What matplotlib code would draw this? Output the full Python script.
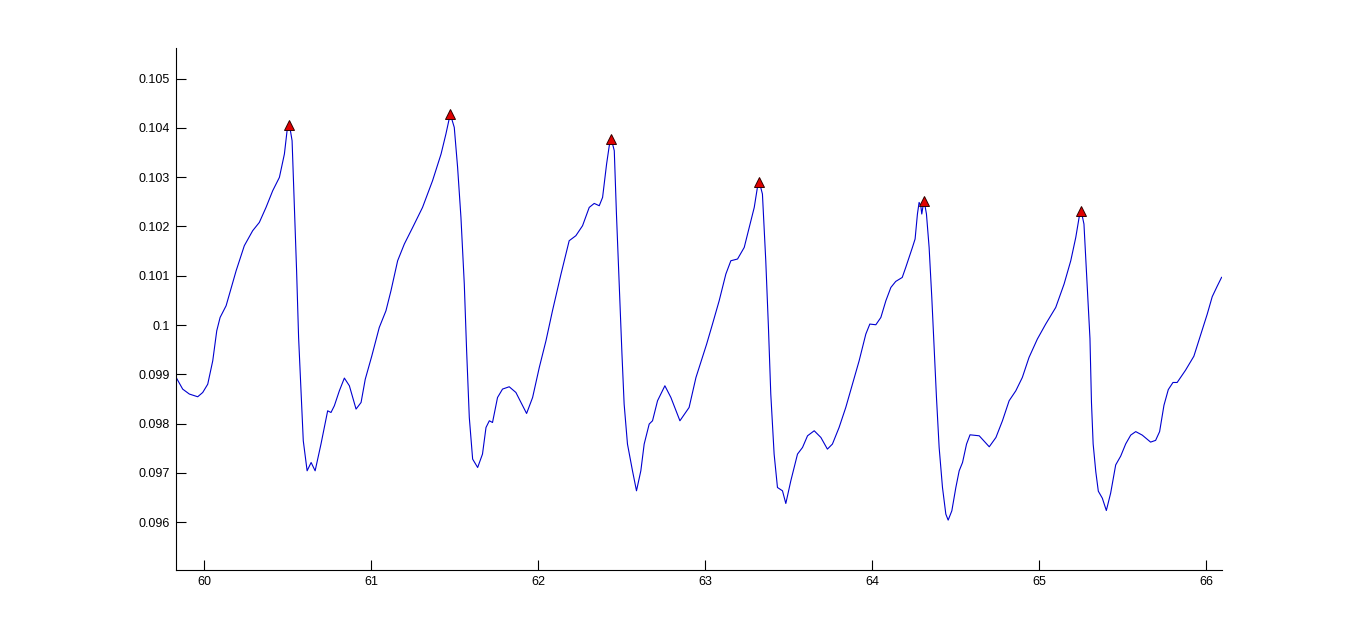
import matplotlib.pyplot as plt

# Data
t = [59.834, 59.873, 59.913, 59.963, 59.993, 60.023, 60.053, 60.077, 60.097, 60.133,
     60.193, 60.242, 60.292, 60.332, 60.372, 60.412, 60.452, 60.482, 60.498, 60.512,
     60.528, 60.542, 60.555, 60.567, 60.582, 60.595, 60.618, 60.642, 60.666, 60.701,
     60.741, 60.761, 60.781, 60.811, 60.841, 60.871, 60.911, 60.941, 60.966, 61.005,
     61.050, 61.090, 61.120, 61.160, 61.200, 61.250, 61.309, 61.369, 61.420, 61.449,
     61.475, 61.499, 61.519, 61.539, 61.559, 61.573, 61.589, 61.609, 61.639, 61.668,
     61.689, 61.709, 61.728, 61.758, 61.788, 61.828, 61.868, 61.932, 61.968, 62.008,
     62.048, 62.087, 62.138, 62.187, 62.227, 62.267, 62.307, 62.337, 62.367, 62.387,
     62.411, 62.427, 62.439, 62.457, 62.470, 62.487, 62.503, 62.516, 62.536, 62.566,
     62.590, 62.616, 62.636, 62.666, 62.686, 62.716, 62.760, 62.796, 62.850, 62.905,
     62.946, 62.980, 63.010, 63.045, 63.085, 63.125, 63.155, 63.195, 63.235, 63.265,
     63.295, 63.314, 63.326, 63.344, 63.364, 63.380, 63.394, 63.414, 63.434, 63.464,
     63.484, 63.514, 63.554, 63.584, 63.614, 63.654, 63.694, 63.733, 63.763, 63.803,
     63.843, 63.883, 63.923, 63.963, 63.987, 64.023, 64.053, 64.083, 64.113, 64.142,
     64.181, 64.202, 64.242, 64.258, 64.272, 64.282, 64.292, 64.298, 64.306, 64.312,
     64.326, 64.342, 64.358, 64.372, 64.386, 64.402, 64.422, 64.442, 64.456, 64.478,
     64.502, 64.522, 64.542, 64.566, 64.587, 64.642, 64.702, 64.742, 64.781, 64.821,
     64.861, 64.900, 64.940, 64.990, 65.040, 65.100, 65.150, 65.190, 65.220, 65.240,
     65.253, 65.269, 65.285, 65.305, 65.314, 65.324, 65.340, 65.355, 65.379, 65.403,
     65.429, 65.459, 65.489, 65.519, 65.549, 65.579, 65.618, 65.668, 65.698, 65.722,
     65.748, 65.774, 65.802, 65.827, 65.877, 65.927, 65.967, 66.007, 66.037, 66.067,
     66.093]
signal = [0.098936, 0.098700, 0.098600, 0.098545, 0.098632, 0.098800, 0.099275, 0.099884, 0.100154, 0.100392,
          0.101102, 0.101610, 0.101914, 0.102083, 0.102387, 0.102726, 0.102996, 0.103471, 0.103944, 0.104066,
          0.103741, 0.102387, 0.101102, 0.099748, 0.098600, 0.097652, 0.097043, 0.097211, 0.097043, 0.097585,
          0.098260, 0.098226, 0.098362, 0.098666, 0.098924, 0.098768, 0.098295, 0.098429, 0.098900, 0.099370,
          0.099951, 0.100290, 0.100696, 0.101305, 0.101644, 0.101981, 0.102387, 0.102929, 0.103471, 0.103877,
          0.104283, 0.104011, 0.103199, 0.102184, 0.100832, 0.099478, 0.098125, 0.097280, 0.097110, 0.097382,
          0.097922, 0.098058, 0.098023, 0.098530, 0.098701, 0.098748, 0.098632, 0.098206, 0.098530, 0.099139,
          0.099681, 0.100290, 0.101035, 0.101711, 0.101813, 0.102015, 0.102387, 0.102468, 0.102421, 0.102590,
          0.103268, 0.103639, 0.103775, 0.103538, 0.102253, 0.100763, 0.099411, 0.098397, 0.097585, 0.097043,
          0.096637, 0.097043, 0.097585, 0.097991, 0.098058, 0.098464, 0.098768, 0.098530, 0.098058, 0.098328,
          0.098936, 0.099300, 0.099614, 0.100020, 0.100493, 0.101035, 0.101305, 0.101340, 0.101575, 0.101981,
          0.102387, 0.102793, 0.102894, 0.102659, 0.101305, 0.099951, 0.098600, 0.097382, 0.096704, 0.096637,
          0.096380, 0.096840, 0.097382, 0.097516, 0.097753, 0.097855, 0.097719, 0.097483, 0.097585, 0.097922,
          0.098328, 0.098800, 0.099275, 0.099817, 0.100020, 0.100006, 0.100154, 0.100493, 0.100763, 0.100885,
          0.100966, 0.101169, 0.101575, 0.101746, 0.102253, 0.102488, 0.102421, 0.102253, 0.102421, 0.102523,
          0.102253, 0.101575, 0.100560, 0.099545, 0.098530, 0.097516, 0.096704, 0.096164, 0.096042, 0.096231,
          0.096704, 0.097043, 0.097211, 0.097585, 0.097773, 0.097753, 0.097530, 0.097719, 0.098058, 0.098464,
          0.098666, 0.098936, 0.099342, 0.099716, 0.100020, 0.100357, 0.100832, 0.101305, 0.101778, 0.102184,
          0.102306, 0.102050, 0.101000, 0.099724, 0.098430, 0.097589, 0.097020, 0.096629, 0.096487, 0.096237,
          0.096592, 0.097162, 0.097341, 0.097589, 0.097767, 0.097838, 0.097767, 0.097625, 0.097660, 0.097838,
          0.098372, 0.098691, 0.098835, 0.098835, 0.099083, 0.099367, 0.099795, 0.100221, 0.100576, 0.100790,
          0.100968]

peak_t = [60.512, 61.475, 62.439, 63.326, 64.312, 65.253]
peak_val = [0.104066, 0.104283, 0.103775, 0.102894, 0.102523, 0.102306]

xtick_vals = [60, 61, 62, 63, 64, 65, 66]
xtick_labels = ['60', '61', '62', '63', '64', '65', '66']
ytick_vals = [0.096, 0.097, 0.098, 0.099, 0.100, 0.101, 0.102, 0.103, 0.104, 0.105]
ytick_labels = ['0.096', '0.097', '0.098', '0.099', '0.1', '0.101', '0.102', '0.103', '0.104', '0.105']

plt.rcParams['font.family'] = ['Liberation Sans', 'DejaVu Sans']

fig = plt.figure(figsize=(13.5, 6.41), dpi=100)
ax = fig.add_axes([0.13, 0.11, 0.775, 0.815])

ax.plot(t, signal, color='#0000d0', linewidth=0.8)
ax.plot(peak_t, peak_val, linestyle='none', marker='^', markersize=7,
        markerfacecolor='#e00000', markeredgecolor='#300000', markeredgewidth=0.7)

ax.set_xlim(59.83, 66.094)
ax.set_ylim(0.09502, 0.10562)
ax.set_xticks(xtick_vals)
ax.set_xticklabels(xtick_labels)
ax.set_yticks(ytick_vals)
ax.set_yticklabels(ytick_labels)

# matlab look: box off, ticks pointing in
ax.spines['top'].set_visible(False)
ax.spines['right'].set_visible(False)
for s in ('left', 'bottom'):
    ax.spines[s].set_linewidth(0.8)
ax.tick_params(direction='in', length=7.5, width=0.8, labelsize=9, pad=4, colors='black')

fig.savefig('out.png', dpi=100)
